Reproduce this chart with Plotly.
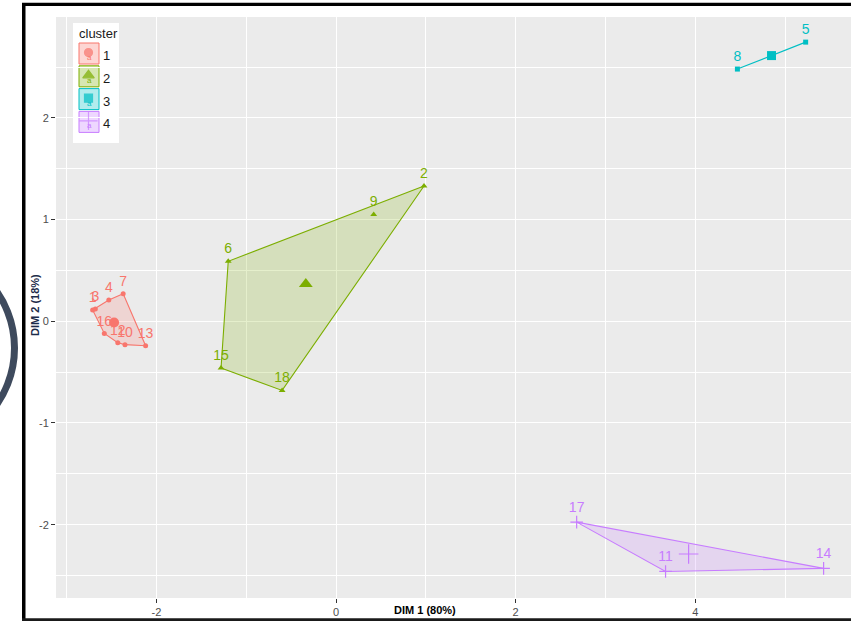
import plotly.graph_objects as go

# ---------------- data ----------------
point_ids = ["1", "2", "3", "4", "5", "6", "7", "8", "9", "10",
             "11", "12", "13", "14", "15", "16", "17", "18"]
dim1 = [-2.71, 0.98, -2.68, -2.53, 5.23, -1.20, -2.37, 4.47, 0.42, -2.35,
        3.67, -2.43, -2.12, 5.43, -1.28, -2.58, 2.68, -0.60]
dim2 = [0.11, 1.33, 0.12, 0.21, 2.745, 0.59, 0.27, 2.48, 1.05, -0.23,
        -2.46, -0.21, -0.24, -2.43, -0.46, -0.12, -1.975, -0.68]
cluster = ["1", "2", "1", "1", "3", "2", "1", "3", "2", "1",
           "4", "1", "1", "4", "2", "1", "4", "2"]
cluster_names = ["1", "2", "3", "4"]
x_ticks = [-2, 0, 2, 4]
x_tick_text = ["-2", "0", "2", "4"]
y_ticks = [-2, -1, 0, 1, 2]
y_tick_text = ["-2", "-1", "0", "1", "2"]
x_title = "DIM 1 (80%)"
y_title = "DIM 2 (18%)"
plot_title = "Cluster plot"
legend_title = "cluster"

# ---------------- styles ----------------
colors = ["#F8766D", "#7CAE00", "#00BFC4", "#C77CFF"]
symbols = ["circle", "triangle-up", "square", "cross-thin"]
pt_sizes = [5, 6, 5, 9]
ctr_sizes = [10, 12, 9, 14]

W, H = 851, 621
L, R, T, B = 56, 851, 17, 598          # panel in pixels
X_RANGE = [-3.118, 5.735]
Y_RANGE = [-2.721, 2.992]
LABEL_FONT = "Liberation Sans Narrow, Arial Narrow, Liberation Sans, Arial"
FONT = "Liberation Sans, Arial"


def pxx(v):
    return (v - L) / (R - L)


def pxy(v):
    return (B - v) / (B - T)


def rgba(hexc, a):
    h = hexc.lstrip("#")
    r, g, b = int(h[0:2], 16), int(h[2:4], 16), int(h[4:6], 16)
    return f"rgba({r},{g},{b},{a})"


def convex_hull(pts):
    pts = sorted(set(pts))
    if len(pts) <= 2:
        return pts

    def cross(o, a, b):
        return (a[0] - o[0]) * (b[1] - o[1]) - (a[1] - o[1]) * (b[0] - o[0])

    lower, upper = [], []
    for p in pts:
        while len(lower) >= 2 and cross(lower[-2], lower[-1], p) <= 0:
            lower.pop()
        lower.append(p)
    for p in reversed(pts):
        while len(upper) >= 2 and cross(upper[-2], upper[-1], p) <= 0:
            upper.pop()
        upper.append(p)
    return lower[:-1] + upper[:-1]


fig = go.Figure()

# hulls
for k, c in enumerate(cluster_names):
    pts = [(dim1[i], dim2[i]) for i in range(len(dim1)) if cluster[i] == c]
    hull = convex_hull(pts)
    hx = [p[0] for p in hull] + [hull[0][0]]
    hy = [p[1] for p in hull] + [hull[0][1]]
    fig.add_trace(go.Scatter(
        x=hx, y=hy, mode="lines", fill="toself",
        fillcolor=rgba(colors[k], 0.2),
        line=dict(color=colors[k], width=1.1),
        hoverinfo="skip", showlegend=False))

# points + labels + centroids
for k, c in enumerate(cluster_names):
    idx = [i for i in range(len(dim1)) if cluster[i] == c]
    xs = [dim1[i] for i in idx]
    ys = [dim2[i] for i in idx]
    lab = [point_ids[i] for i in idx]
    mk = dict(symbol=symbols[k], size=pt_sizes[k], color=colors[k])
    if symbols[k] == "cross-thin":
        mk["line"] = dict(color=colors[k], width=1.2)
    fig.add_trace(go.Scatter(
        x=xs, y=ys, mode="markers+text", text=lab,
        textposition="top center",
        textfont=dict(color=colors[k], size=14, family=LABEL_FONT),
        marker=mk, showlegend=False, cliponaxis=False))
    cx = sum(xs) / len(xs)
    cy = sum(ys) / len(ys)
    mk2 = dict(symbol=symbols[k], size=ctr_sizes[k], color=colors[k])
    if symbols[k] == "cross-thin":
        mk2["line"] = dict(color=colors[k], width=1.2)
    fig.add_trace(go.Scatter(x=[cx], y=[cy], mode="markers", marker=mk2,
                             showlegend=False))

# ---------------- legend (drawn manually, ggplot style) ----------------
shapes = []
annos = []
shapes.append(dict(type="rect", xref="paper", yref="paper", layer="between",
                   x0=pxx(73), x1=pxx(119), y0=pxy(143), y1=pxy(23),
                   fillcolor="white", line=dict(width=0)))
annos.append(dict(text=legend_title, xref="paper", yref="paper",
                  x=pxx(77), y=pxy(33), xanchor="left", yanchor="middle",
                  showarrow=False, font=dict(size=13, color="#1a1a1a", family=FONT)))
key_y = [53.5, 76.3, 99.1, 121.9]
leg_x, leg_y, leg_sym, leg_col, leg_size = [], [], [], [], []
for k, c in enumerate(cluster_names):
    yc = key_y[k]
    shapes.append(dict(type="rect", xref="paper", yref="paper", layer="between",
                       x0=pxx(79), x1=pxx(99), y0=pxy(yc + 10.5), y1=pxy(yc - 10.5),
                       fillcolor=rgba(colors[k], 0.3),
                       line=dict(color=colors[k], width=1)))
    annos.append(dict(text=c, xref="paper", yref="paper",
                      x=pxx(101), y=pxy(yc + 2), xanchor="left", yanchor="middle",
                      showarrow=False, font=dict(size=13, color="#1a1a1a", family=FONT)))
    annos.append(dict(text="a", xref="paper", yref="paper",
                      x=pxx(89), y=pxy(yc + 4), xanchor="center", yanchor="middle",
                      showarrow=False, font=dict(size=8, color=colors[k], family=FONT)))
    leg_x.append(88.5)
    leg_y.append(yc - 1)
    leg_sym.append(symbols[k])
    leg_col.append(colors[k])
    leg_size.append([8, 10, 8, 13][k])

fig.add_trace(go.Scatter(
    x=leg_x, y=leg_y, mode="markers", xaxis="x2", yaxis="y2",
    marker=dict(symbol=leg_sym, color=leg_col, size=leg_size,
                line=dict(color=leg_col, width=1.2)),
    hoverinfo="skip", showlegend=False))

# partially hidden title (behind frame line)
fig.add_trace(go.Scatter(
    x=[58], y=[3], mode="text", text=[plot_title], textposition="middle right",
    textfont=dict(size=14, color="#9a9a9a", family=FONT),
    xaxis="x2", yaxis="y2", cliponaxis=False, hoverinfo="skip", showlegend=False))

# axis titles
annos.append(dict(text="<b>" + x_title + "</b>", xref="paper", yref="paper",
                  x=pxx(425), y=pxy(610), xanchor="center", yanchor="middle",
                  showarrow=False, font=dict(size=11, color="#000000", family=FONT)))
annos.append(dict(text="<b>" + y_title + "</b>", xref="paper", yref="paper",
                  x=pxx(35), y=pxy(305), xanchor="center", yanchor="middle",
                  textangle=-90, showarrow=False,
                  font=dict(size=11, color="#1c2b4a", family=FONT)))

# frame lines & arc decoration
shapes.append(dict(type="rect", xref="paper", yref="paper", layer="above",
                   x0=pxx(22), x1=pxx(25.5), y0=pxy(621), y1=pxy(3),
                   fillcolor="#000000", line=dict(width=0)))
shapes.append(dict(type="rect", xref="paper", yref="paper", layer="above",
                   x0=pxx(22), x1=pxx(851), y0=pxy(6), y1=pxy(2.7),
                   fillcolor="#000000", line=dict(width=0)))
shapes.append(dict(type="rect", xref="paper", yref="paper", layer="above",
                   x0=pxx(22), x1=pxx(851), y0=pxy(621), y1=pxy(618.3),
                   fillcolor="#1a1a1a", line=dict(width=0)))
shapes.append(dict(type="circle", xref="paper", yref="paper", layer="above",
                   x0=pxx(-84 - 98.5), x1=pxx(-84 + 98.5),
                   y0=pxy(348 + 98.5), y1=pxy(348 - 98.5),
                   fillcolor="rgba(0,0,0,0)", line=dict(color="#3e4a5d", width=7)))

axis_common = dict(
    showgrid=True, gridcolor="white", gridwidth=1.2,
    zeroline=False, showline=False,
    ticks="outside", ticklen=4, tickwidth=1, tickcolor="#333333",
    tickfont=dict(size=11, color="#4d4d4d", family=LABEL_FONT),
)

fig.update_layout(
    width=W, height=H,
    margin=dict(l=L, r=W - R, t=T, b=H - B, pad=0),
    paper_bgcolor="white", plot_bgcolor="#EBEBEB",
    showlegend=False,
    xaxis=dict(range=X_RANGE, tickmode="array", tickvals=x_ticks, ticktext=x_tick_text,
               minor=dict(tickmode="array", tickvals=[-3, -1, 1, 3, 5],
                          showgrid=True, gridcolor="white", gridwidth=0.6),
               **axis_common),
    yaxis=dict(range=Y_RANGE, tickmode="array", tickvals=y_ticks, ticktext=y_tick_text,
               minor=dict(tickmode="array", tickvals=[-2.5, -1.5, -0.5, 0.5, 1.5, 2.5],
                          showgrid=True, gridcolor="white", gridwidth=0.6),
               **axis_common),
    xaxis2=dict(range=[L, R], overlaying="x", visible=False, fixedrange=True),
    yaxis2=dict(range=[B, T], overlaying="y", visible=False, fixedrange=True),
    shapes=shapes,
    annotations=annos,
)

fig.write_html(
    "out.html",
    config={"displayModeBar": False},
    post_script="document.body.style.margin='0';document.body.style.overflow='hidden';",
)
